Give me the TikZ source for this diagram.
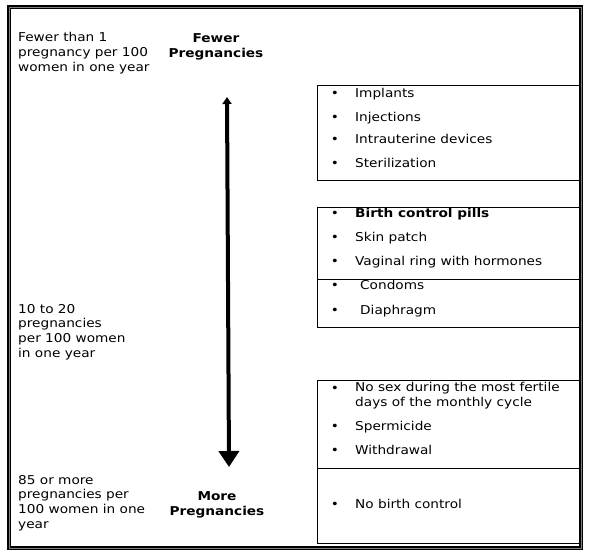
\documentclass[tikz,border=0pt]{standalone}
\usepackage{fontspec}
\setmainfont{DejaVu Sans}[FakeStretch=1.12]
\usetikzlibrary{arrows.meta}
\newcommand{\fs}{\fontsize{12.2}{14.6}\selectfont}
\begin{document}
\begin{tikzpicture}[x=1pt,y=-1pt,
  txt/.style={anchor=base west,inner sep=0pt,font=\fs,align=left},
  ctr/.style={anchor=base,inner sep=0pt,font=\fs\bfseries,align=center},
  item/.style={anchor=base west,inner sep=0pt,font=\fs},
  bul/.style={anchor=base,inner sep=0pt,font=\fs},
  boxx/.style={draw,line width=0.8pt,anchor=north west,minimum width=262pt,inner sep=0pt}]
\useasboundingbox (0,0) rectangle (597,558);
\fill[white] (0,0) rectangle (597,558);
% right boxes
\node[boxx,minimum height=95pt] (b1) at (317,85) {};
\node[boxx,minimum height=72pt] (b2a) at (317,207) {};
\node[boxx,minimum height=48pt] (b2b) at (317,279) {};
\node[boxx,minimum height=88pt] (b3a) at (317,380) {};
\node[boxx,minimum height=75pt] (b3b) at (317,468) {};
% items
\foreach \y/\t [count=\i] in {97/Implants,121/Injections,143/Intrauterine devices,167/Sterilization,
  241/Skin patch,265/Vaginal ring with hormones,430/Spermicide,454/Withdrawal,508/No birth control}{
  \node[bul] (u\i) at (335,\y) {•};
  \node[item] (t\i) at (355,\y) {\t};
}
\node[bul] (ubc) at (335,217) {•};
\node[item,font=\fs\bfseries] (tbc) at (355,217) {Birth control pills};
\node[bul] (uco) at (335,289) {•};
\node[item] (tco) at (360,289) {Condoms};
\node[bul] (udi) at (335,314) {•};
\node[item] (tdi) at (360,314) {Diaphragm};
\node[bul] (uns) at (335,392) {•};
\node[txt] (tns) at (355,406) {No sex during the most fertile\\days of the monthly cycle};
% left texts (anchored at the baseline of their last line)
\node[txt] (l1) at (18,71) {Fewer than 1\\pregnancy per 100\\women in one year};
\node[txt] (l2) at (18,357) {10 to 20\\pregnancies\\per 100 women\\in one year};
\node[txt] (l3) at (18,528) {85 or more\\pregnancies per\\100 women in one\\year};
\node[ctr] (fp) at (216,57) {Fewer\\Pregnancies};
\node[ctr] (mp) at (217,515) {More\\Pregnancies};
% arrow
\coordinate (atop) at (227,97);
\coordinate (abot) at (229,467);
\draw[line width=4pt,{Triangle[width=9pt,length=7pt]}-{Triangle[width=20pt,length=16pt]}] (atop) -- (abot);
% frame
\draw[line width=4.6pt] (9,7) rectangle (581,548);
\draw[line width=1pt,gray] (9,7) rectangle (581,548);
\end{tikzpicture}
\end{document}
